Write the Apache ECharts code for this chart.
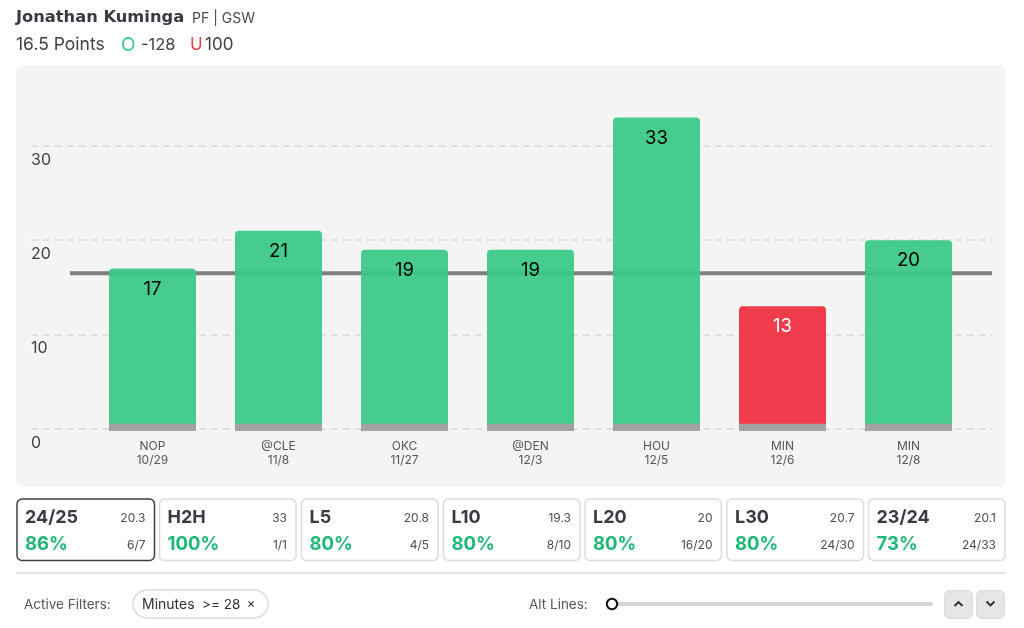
<!DOCTYPE html>
<html>
<head>
<meta charset="utf-8">
<style>
  html, body { margin: 0; padding: 0; background: #fff; }
  #chart { width: 1024px; height: 628px; }
</style>
<script src="https://cdn.jsdelivr.net/npm/echarts@6/dist/echarts.min.js"></script>
</head>
<body>
<div id="chart"></div>
<script>
var opponents = ['NOP', '@CLE', 'OKC', '@DEN', 'HOU', 'MIN', 'MIN'];
var dates = ['10/29', '11/8', '11/27', '12/3', '12/5', '12/6', '12/8'];
var points = [17, 21, 19, 19, 33, 13, 20];
var propLine = 16.5;

var cardTitles = ['24/25', 'H2H', 'L5', 'L10', 'L20', 'L30', '23/24'];
var cardAverages = ['20.3', '33', '20.8', '19.3', '20', '20.7', '20.1'];
var cardPercents = ['86%', '100%', '80%', '80%', '80%', '80%', '73%'];
var cardRecords = ['6/7', '1/1', '4/5', '8/10', '16/20', '24/30', '24/33'];

var FONT = 'Inter, sans-serif';
var GREEN = 'rgba(56,200,133,0.93)';
var RED = 'rgba(239,45,61,0.93)';
var DARK = '#3a3a44';
var GRID_TOP = 98.6;
var GRID_BOTTOM = 199;

var chart = echarts.init(document.getElementById('chart'));

function label(x, y, text, size, color, weight, align, family) {
  return {
    type: 'text', x: x, y: y, z: 5,
    style: {
      text: text, fontFamily: family || FONT, fontSize: size, fill: color,
      fontWeight: weight || 400, align: align || 'left', verticalAlign: 'middle'
    }
  };
}

function box(x, y, w, h, r, fill, stroke, lineWidth) {
  return {
    type: 'rect', z: 4,
    shape: { x: x, y: y, width: w, height: h, r: r },
    style: { fill: fill, stroke: stroke, lineWidth: lineWidth || 0 }
  };
}

function chevron(cx, cy, dir) {
  return {
    type: 'polyline', z: 5,
    shape: { points: [[cx - 4, cy + 2 * dir * -1], [cx, cy + 2 * dir], [cx + 4, cy + 2 * dir * -1]] },
    style: { stroke: '#2b2b2b', lineWidth: 1.8, fill: null }
  };
}

var graphics = [
  { type: 'rect', z: -1, shape: { x: 16, y: 65, width: 990, height: 422, r: 8 }, style: { fill: '#f4f4f4' } },
  label(16, 18, 'Jonathan Kuminga', 16.3, DARK, 700, 'left', '"DejaVu Sans", sans-serif'),
  label(192, 19, 'PF | GSW', 14, '#4a4a50'),
  label(16, 45, '16.5 Points', 17.5, '#3f3f46'),
  label(121, 45, 'O', 19, '#3fc98a'),
  label(141, 45, '-128', 16.5, '#3f3f46'),
  label(190, 45, 'U', 17, '#ef3b4a'),
  label(205, 45, '100', 17, '#3f3f46'),
  { type: 'rect', z: 4, shape: { x: 16, y: 572, width: 990, height: 2 }, style: { fill: '#e6e6e6' } },
  label(24, 605, 'Active Filters:', 13.5, '#55555c'),
  box(133, 590, 135, 28, 14, '#fff', '#e2e2e2', 2),
  label(142, 605, 'Minutes', 14, '#2e2e34'),
  label(202, 605, '>= 28', 13.5, '#2e2e34'),
  label(251, 604, '×', 13, '#2e2e34', 400, 'center'),
  label(529, 605, 'Alt Lines:', 13.5, '#55555c'),
  box(612, 602, 321, 4, 2, '#d6d6d8'),
  { type: 'circle', z: 5, shape: { cx: 612, cy: 604, r: 5.2 }, style: { fill: '#fff', stroke: '#111', lineWidth: 2 } },
  box(944.5, 590.5, 28, 28, 5, '#e6e6e6', '#dcdcdc', 1),
  box(976.5, 590.5, 28, 28, 5, '#e6e6e6', '#dcdcdc', 1),
  chevron(958.5, 604, -1),
  chevron(990.5, 603.5, 1)
];

var cardLefts = [17, 159.5, 301.5, 443.5, 585, 727, 868.5];
cardTitles.forEach(function (title, i) {
  var left = cardLefts[i];
  var width = i === 0 ? 137.5 : 136.5;
  var right = left + width - 9;
  graphics.push(i === 0 ? box(left, 499, width, 61.5, 5, '#fff', '#3f3f48', 1.5) : box(left, 499, width, 61.5, 5, '#fff', '#dcdcdc', 1.5));
  graphics.push(label(left + 8, 517.5, title, 18, DARK, 700));
  graphics.push(label(right, 518, cardAverages[i], 12, '#4c4c52', 400, 'right'));
  graphics.push(label(left + 8, 544, cardPercents[i], 18.5, '#1db877', 700));
  graphics.push(label(right, 545, cardRecords[i], 12, '#4c4c52', 400, 'right'));
});

var barData = points.map(function (v) {
  return {
    value: v,
    itemStyle: { color: v > propLine ? GREEN : RED },
    label: { color: v > propLine ? '#000' : '#fff' }
  };
});

var option = {
  animation: false,
  backgroundColor: '#fff',
  graphic: graphics,
  grid: [
    { left: 31, right: 32, top: GRID_TOP, bottom: GRID_BOTTOM },
    { left: 89.5, right: 52.5, top: GRID_TOP, bottom: GRID_BOTTOM },
    { left: 70, right: 32, top: GRID_TOP, bottom: GRID_BOTTOM }
  ],
  xAxis: [
    { gridIndex: 0, type: 'category', data: opponents, show: false },
    {
      gridIndex: 1, type: 'category',
      data: opponents.map(function (o, i) { return o + '\n' + dates[i]; }),
      axisLine: { show: false }, axisTick: { show: false },
      axisLabel: { fontFamily: FONT, fontSize: 12, color: '#55555c', lineHeight: 14, margin: 10, interval: 0 }
    },
    { gridIndex: 2, type: 'category', data: ['start', 'end'], boundaryGap: false, show: false }
  ],
  yAxis: [
    {
      gridIndex: 0, type: 'value', min: 0, max: 35, interval: 10,
      axisLine: { show: false }, axisTick: { show: false },
      axisLabel: {
        inside: true, margin: 0, align: 'left', verticalAlign: 'top', padding: [6, 0, 0, 0],
        fontFamily: FONT, fontSize: 16, color: '#3f3f46', showMaxLabel: false
      },
      splitLine: { showMaxLine: false, lineStyle: { color: '#e0e0e0', width: 2, type: [7, 5] } }
    },
    { gridIndex: 1, type: 'value', min: 0, max: 35, show: false },
    { gridIndex: 2, type: 'value', min: 0, max: 35, show: false }
  ],
  series: [
    {
      type: 'line', xAxisIndex: 2, yAxisIndex: 2, z: 1,
      data: [propLine, propLine], symbol: 'none', silent: true,
      lineStyle: { color: '#7f7f7f', width: 4 }
    },
    {
      type: 'bar', xAxisIndex: 1, yAxisIndex: 1, z: 2,
      barWidth: 87, data: barData,
      itemStyle: { borderRadius: [4, 4, 0, 0] },
      label: { show: true, position: 'insideTop', distance: 11, fontFamily: FONT, fontSize: 18.5 }
    },
    {
      type: 'custom', xAxisIndex: 1, yAxisIndex: 1, z: 3, silent: true,
      data: points.map(function (v, i) { return [i, 0]; }),
      renderItem: function (params, api) {
        var top = api.coord([api.value(0), 0.55]);
        var bottom = api.coord([api.value(0), -0.2]);
        return {
          type: 'rect',
          shape: { x: top[0] - 43.5, y: top[1], width: 87, height: bottom[1] - top[1] },
          style: { fill: '#a2a2a2' }
        };
      }
    }
  ]
};

chart.setOption(option);
window.addEventListener('resize', chart.resize);
</script>
</body>
</html>
